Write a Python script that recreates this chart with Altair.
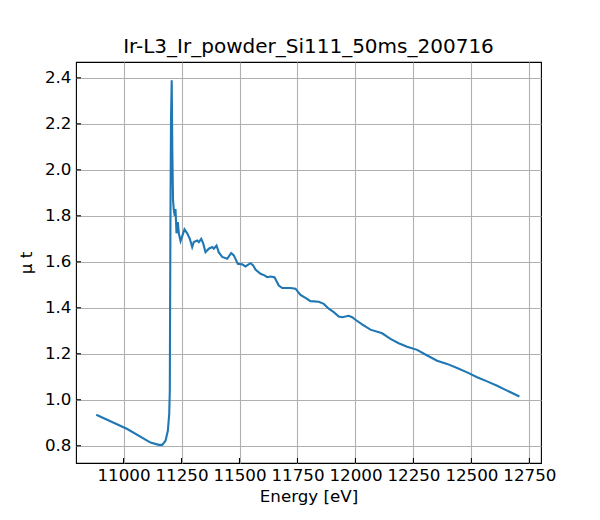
import altair as alt
import pandas as pd

energy = [10882.3, 11016, 11116.4, 11152, 11166.8, 11181, 11191, 11197, 11199.5,
          11200.4, 11202.6, 11204.7, 11207.7, 11210.3, 11213.3, 11216.8, 11221, 11224,
          11228.4, 11234, 11238.3, 11245.7, 11262.9, 11274.5, 11285.7, 11296, 11303,
          11317.6, 11324.6, 11334.9, 11343.5, 11353.4, 11367.6, 11382.3, 11389, 11400.8,
          11410.3, 11425.4, 11446.9, 11464.2, 11475.4, 11492.6, 11511.6, 11525.8, 11547.4,
          11559, 11568.9, 11590.5, 11607.7, 11619.3, 11633.6, 11650.8, 11669.3, 11684,
          11719.8, 11741.3, 11762.9, 11784.4, 11806, 11841.7, 11863.3, 11884.8, 11906.4,
          11927.9, 11942.6, 11971, 11985.7, 12000, 12030, 12064.6, 12115, 12150.8,
          12186.6, 12222.8, 12265.9, 12301.6, 12352, 12395.2, 12438.3, 12481.4, 12524.5,
          12567.6, 12610.7, 12653.8, 12706.8]
mu_t = [0.935, 0.873, 0.814, 0.804, 0.804, 0.822, 0.865, 0.939, 1.040,
        1.30, 1.868, 2.22, 2.39, 2.085, 1.87, 1.824, 1.80, 1.83,
        1.724, 1.773, 1.724, 1.69, 1.741, 1.724, 1.70, 1.664, 1.686,
        1.693, 1.686, 1.70, 1.68, 1.642, 1.657, 1.664, 1.657, 1.671,
        1.642, 1.621, 1.613, 1.638, 1.628, 1.591, 1.589, 1.58, 1.594,
        1.584, 1.566, 1.548, 1.541, 1.533, 1.536, 1.533, 1.497, 1.486,
        1.486, 1.483, 1.456, 1.443, 1.429, 1.426, 1.417, 1.396, 1.381,
        1.362, 1.359, 1.365, 1.359, 1.348, 1.327, 1.305, 1.289, 1.265,
        1.246, 1.231, 1.217, 1.197, 1.170, 1.156, 1.138, 1.119, 1.098,
        1.080, 1.061, 1.040, 1.014]

x_ticks = [11000, 11250, 11500, 11750, 12000, 12250, 12500, 12750]
y_ticks = [0.8, 1.0, 1.2, 1.4, 1.6, 1.8, 2.0, 2.2, 2.4]

df = pd.DataFrame({"energy": energy, "mu": mu_t})
xt = pd.DataFrame({"v": x_ticks})
yt = pd.DataFrame({"v": y_ticks})

FONT = "DejaVu Sans"
FS = 16.7
xscale = alt.Scale(domain=[10795, 12800], nice=False, zero=False)
yscale = alt.Scale(domain=[0.725, 2.469], nice=False, zero=False)

line = alt.Chart(df).mark_line(color="#1f77b4", strokeWidth=2.1).encode(
    x=alt.X("energy:Q", scale=xscale,
            axis=alt.Axis(title="Energy [eV]", values=x_ticks, format="d",
                          grid=True, gridColor="#b0b0b0", gridWidth=1.1,
                          ticks=False, domain=False, labelPadding=4,
                          labelFont=FONT, labelFontSize=FS, labelColor="black",
                          titleFont=FONT, titleFontSize=FS, titleFontWeight="normal",
                          titleColor="black", titlePadding=5)),
    y=alt.Y("mu:Q", scale=yscale,
            axis=alt.Axis(title="μ t", values=y_ticks, format=".1f",
                          grid=True, gridColor="#b0b0b0", gridWidth=1.1,
                          ticks=False, domain=False, labelPadding=5,
                          labelFont=FONT, labelFontSize=FS, labelColor="black",
                          titleFont=FONT, titleFontSize=FS, titleFontWeight="normal",
                          titleColor="black", titlePadding=9)),
)

xtick_marks = alt.Chart(xt).mark_rule(color="black", strokeWidth=1.1).encode(
    x=alt.X("v:Q", scale=xscale), y=alt.value(401), y2=alt.value(396))
ytick_marks = alt.Chart(yt).mark_rule(color="black", strokeWidth=1.1).encode(
    y=alt.Y("v:Q", scale=yscale), x=alt.value(0), x2=alt.value(5))

chart = alt.layer(line, xtick_marks, ytick_marks).properties(
    width=465, height=401,
    title=alt.Title("Ir-L3_Ir_powder_Si111_50ms_200716", font=FONT, fontSize=20,
                    fontWeight="normal", color="black", offset=5),
    autosize=alt.AutoSizeParams(type="none"),
    padding={"left": 68, "top": 54, "right": 40, "bottom": 60},
).configure_view(stroke="black", strokeWidth=1.1)

chart.save("out.html", embed_options={"renderer": "svg", "actions": False})
